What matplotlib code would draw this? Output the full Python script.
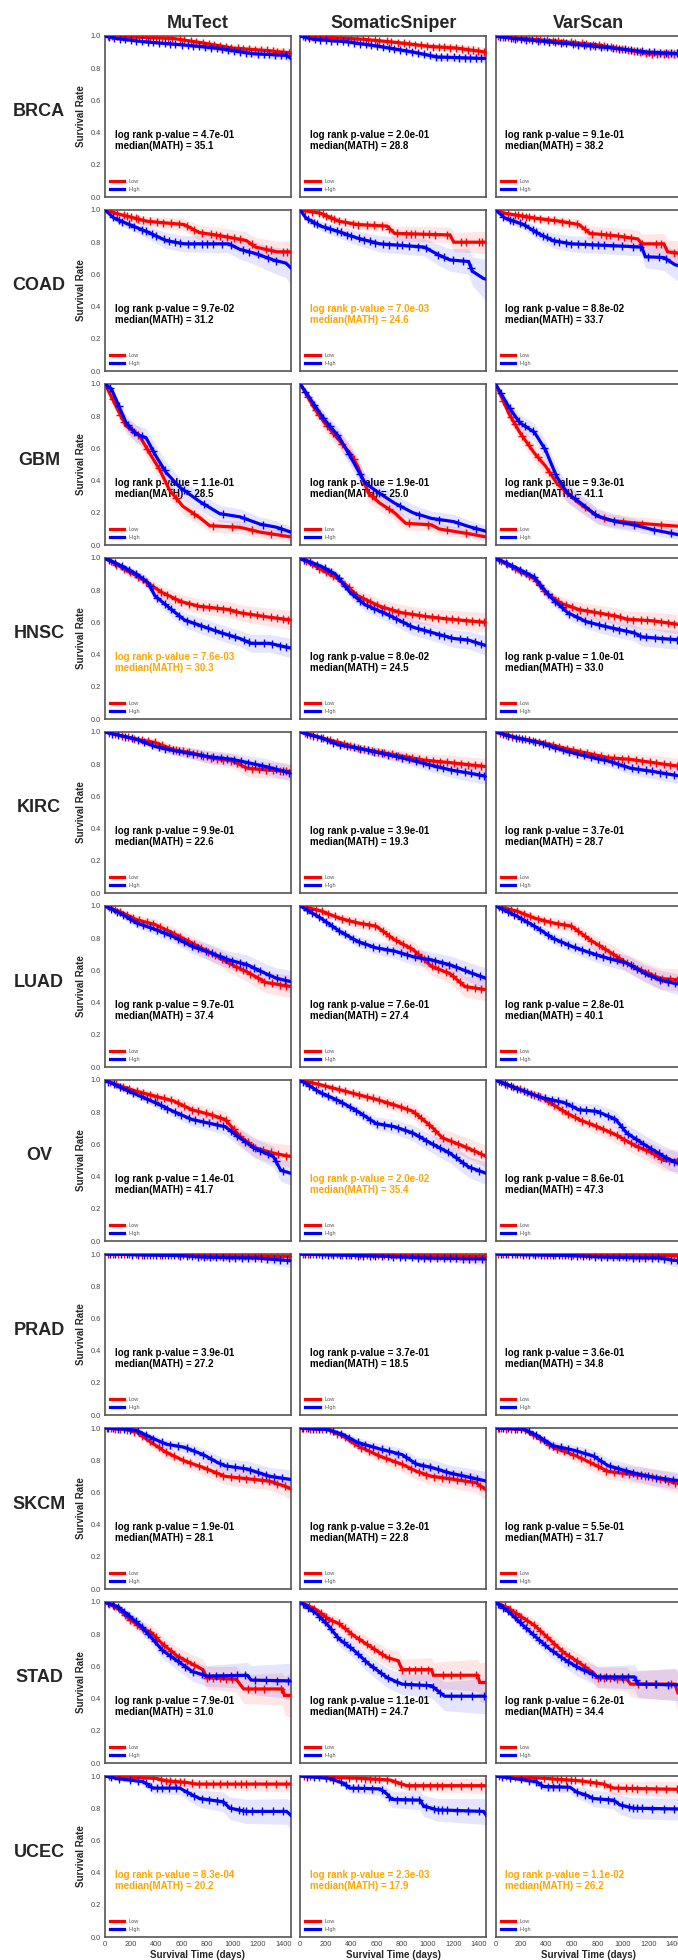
import matplotlib
matplotlib.use("Agg")
import matplotlib.pyplot as plt
import numpy as np

plt.rcParams["font.family"] = ["Liberation Sans", "DejaVu Sans"]

CANCERS = ["BRCA", "COAD", "GBM", "HNSC", "KIRC", "LUAD", "OV", "PRAD", "SKCM", "STAD", "UCEC"]
CALLERS = ["MuTect", "SomaticSniper", "VarScan"]

# log rank p-values and median MATH, one row per cancer (MuTect, SomaticSniper, VarScan)
P_VALUES = [
    [4.7e-01, 2.0e-01, 9.1e-01],
    [9.7e-02, 7.0e-03, 8.8e-02],
    [1.1e-01, 1.9e-01, 9.3e-01],
    [7.6e-03, 8.0e-02, 1.0e-01],
    [9.9e-01, 3.9e-01, 3.7e-01],
    [9.7e-01, 7.6e-01, 2.8e-01],
    [1.4e-01, 2.0e-02, 8.6e-01],
    [3.9e-01, 3.7e-01, 3.6e-01],
    [1.9e-01, 3.2e-01, 5.5e-01],
    [7.9e-01, 1.1e-01, 6.2e-01],
    [8.3e-04, 2.3e-03, 1.1e-02],
]
MEDIAN_MATH = [
    [35.1, 28.8, 38.2],
    [31.2, 24.6, 33.7],
    [28.5, 25.0, 41.1],
    [30.3, 24.5, 33.0],
    [22.6, 19.3, 28.7],
    [37.4, 27.4, 40.1],
    [41.7, 35.4, 47.3],
    [27.2, 18.5, 34.8],
    [28.1, 22.8, 31.7],
    [31.0, 24.7, 34.4],
    [20.2, 17.9, 26.2],
]

# survival curves: rows of (days, survival, confidence half-width)
BRCA = {
    "MuTect": {
        "Low": [(0, 1, 0), (535, 0.985, 0.01), (744, 0.96, 0.015), (1007, 0.925, 0.02), (1270, 0.91, 0.025), (1460, 0.895, 0.03)],
        "High": [(0, 1, 0), (89, 0.985, 0.005), (299, 0.965, 0.01), (613, 0.945, 0.015), (875, 0.925, 0.02), (1163, 0.89, 0.025), (1426, 0.88, 0.03), (1460, 0.86, 0.035)],
    },
    "SomaticSniper": {
        "Low": [(0, 1, 0), (494, 0.98, 0.01), (756, 0.96, 0.015), (1019, 0.935, 0.02), (1229, 0.925, 0.025), (1460, 0.90, 0.03)],
        "High": [(0, 1, 0), (100, 0.98, 0.005), (362, 0.965, 0.01), (625, 0.935, 0.015), (888, 0.90, 0.02), (1071, 0.87, 0.025), (1460, 0.86, 0.03)],
    },
    "VarScan": {
        "Low": [(0, 1, 0), (139, 0.99, 0.005), (533, 0.965, 0.01), (796, 0.945, 0.015), (1058, 0.91, 0.02), (1190, 0.89, 0.025), (1460, 0.89, 0.03)],
        "High": [(0, 1, 0), (139, 0.985, 0.005), (402, 0.965, 0.01), (664, 0.945, 0.015), (927, 0.925, 0.02), (1190, 0.90, 0.025), (1460, 0.89, 0.03)],
    },
}
COAD = {
    "MuTect": {
        "Low": [(0, 1, 0), (130, 0.97, 0.02), (330, 0.93, 0.03), (620, 0.91, 0.04), (740, 0.86, 0.045), (910, 0.84, 0.05), (1110, 0.81, 0.055), (1180, 0.77, 0.06), (1350, 0.74, 0.065), (1460, 0.74, 0.07)],
        "High": [(0, 1, 0), (70, 0.95, 0.02), (190, 0.91, 0.03), (330, 0.865, 0.04), (480, 0.81, 0.05), (620, 0.79, 0.05), (970, 0.79, 0.055), (1060, 0.755, 0.06), (1180, 0.73, 0.07), (1320, 0.69, 0.08), (1420, 0.67, 0.09), (1460, 0.64, 0.11)],
    },
    "SomaticSniper": {
        "Low": [(0, 1, 0), (160, 0.98, 0.015), (305, 0.93, 0.025), (450, 0.91, 0.03), (680, 0.90, 0.035), (740, 0.855, 0.045), (1175, 0.845, 0.05), (1205, 0.80, 0.06), (1460, 0.80, 0.07)],
        "High": [(0, 1, 0), (44, 0.95, 0.02), (160, 0.90, 0.03), (305, 0.865, 0.04), (450, 0.825, 0.045), (624, 0.79, 0.05), (972, 0.77, 0.055), (1088, 0.72, 0.065), (1175, 0.69, 0.07), (1321, 0.68, 0.08), (1350, 0.62, 0.09), (1437, 0.575, 0.12), (1460, 0.57, 0.14)],
    },
    "VarScan": {
        "Low": [(0, 1, 0), (73, 0.98, 0.01), (305, 0.95, 0.02), (508, 0.93, 0.03), (653, 0.91, 0.035), (740, 0.855, 0.045), (943, 0.84, 0.05), (1117, 0.82, 0.055), (1147, 0.79, 0.06), (1321, 0.79, 0.065), (1350, 0.74, 0.07), (1460, 0.73, 0.08)],
        "High": [(0, 1, 0), (73, 0.95, 0.02), (218, 0.91, 0.03), (334, 0.855, 0.04), (450, 0.81, 0.045), (595, 0.79, 0.05), (1147, 0.77, 0.055), (1175, 0.71, 0.07), (1321, 0.705, 0.08), (1408, 0.66, 0.09), (1460, 0.65, 0.1)],
    },
}
GBM = {
    "MuTect": {
        "Low": [(0, 1, 0), (100, 0.84, 0.04), (165, 0.74, 0.05), (270, 0.68, 0.055), (350, 0.57, 0.06), (428, 0.47, 0.06), (507, 0.34, 0.055), (612, 0.24, 0.05), (743, 0.17, 0.045), (822, 0.12, 0.04), (1058, 0.11, 0.04), (1216, 0.08, 0.035), (1460, 0.05, 0.03)],
        "High": [(0, 1, 0), (50, 0.97, 0.02), (165, 0.76, 0.05), (244, 0.69, 0.055), (323, 0.665, 0.06), (402, 0.55, 0.065), (480, 0.45, 0.065), (585, 0.36, 0.06), (743, 0.27, 0.055), (900, 0.195, 0.05), (1058, 0.175, 0.05), (1216, 0.13, 0.045), (1347, 0.11, 0.04), (1460, 0.08, 0.035)],
    },
    "SomaticSniper": {
        "Low": [(0, 1, 0), (102, 0.86, 0.04), (189, 0.76, 0.05), (305, 0.65, 0.055), (392, 0.57, 0.06), (450, 0.49, 0.06), (537, 0.32, 0.055), (624, 0.26, 0.05), (740, 0.20, 0.045), (827, 0.135, 0.04), (1030, 0.125, 0.04), (1088, 0.10, 0.035), (1321, 0.07, 0.03), (1460, 0.05, 0.03)],
        "High": [(0, 1, 0), (102, 0.88, 0.035), (189, 0.78, 0.045), (305, 0.67, 0.055), (421, 0.51, 0.06), (508, 0.385, 0.06), (624, 0.32, 0.055), (740, 0.26, 0.055), (885, 0.20, 0.05), (1030, 0.165, 0.045), (1205, 0.145, 0.045), (1321, 0.115, 0.04), (1460, 0.085, 0.035)],
    },
    "VarScan": {
        "Low": [(0, 1, 0), (102, 0.82, 0.04), (189, 0.70, 0.05), (305, 0.57, 0.055), (392, 0.49, 0.06), (479, 0.385, 0.06), (566, 0.32, 0.055), (653, 0.26, 0.05), (798, 0.18, 0.045), (885, 0.155, 0.04), (1117, 0.135, 0.04), (1460, 0.115, 0.035)],
        "High": [(0, 1, 0), (102, 0.86, 0.04), (189, 0.76, 0.05), (305, 0.70, 0.055), (392, 0.59, 0.06), (479, 0.425, 0.065), (566, 0.32, 0.06), (653, 0.27, 0.055), (798, 0.18, 0.05), (943, 0.145, 0.045), (1088, 0.125, 0.04), (1234, 0.095, 0.035), (1460, 0.06, 0.03)],
    },
}
HNSC = {
    "MuTect": {
        "Low": [(0, 1, 0), (131, 0.94, 0.02), (247, 0.89, 0.03), (363, 0.83, 0.035), (450, 0.785, 0.04), (595, 0.73, 0.045), (740, 0.70, 0.045), (972, 0.68, 0.05), (1059, 0.66, 0.05), (1263, 0.635, 0.055), (1460, 0.615, 0.06)],
        "High": [(0, 1, 0), (131, 0.95, 0.02), (247, 0.90, 0.03), (334, 0.85, 0.035), (392, 0.765, 0.04), (537, 0.67, 0.045), (624, 0.615, 0.045), (769, 0.575, 0.05), (914, 0.535, 0.05), (1059, 0.50, 0.05), (1147, 0.47, 0.055), (1292, 0.47, 0.055), (1460, 0.44, 0.06)],
    },
    "SomaticSniper": {
        "Low": [(0, 1, 0), (160, 0.93, 0.02), (276, 0.88, 0.03), (363, 0.83, 0.035), (450, 0.765, 0.04), (624, 0.70, 0.045), (798, 0.66, 0.05), (1001, 0.635, 0.05), (1175, 0.62, 0.055), (1460, 0.60, 0.06)],
        "High": [(0, 1, 0), (160, 0.95, 0.02), (276, 0.90, 0.03), (392, 0.785, 0.035), (508, 0.71, 0.04), (682, 0.65, 0.045), (885, 0.57, 0.05), (1088, 0.525, 0.05), (1205, 0.50, 0.055), (1321, 0.49, 0.055), (1460, 0.455, 0.06)],
    },
    "VarScan": {
        "Low": [(0, 1, 0), (160, 0.93, 0.02), (305, 0.87, 0.03), (392, 0.785, 0.035), (508, 0.72, 0.04), (653, 0.68, 0.045), (943, 0.64, 0.05), (1030, 0.62, 0.05), (1234, 0.61, 0.055), (1460, 0.585, 0.06)],
        "High": [(0, 1, 0), (160, 0.94, 0.02), (305, 0.88, 0.03), (421, 0.765, 0.035), (566, 0.66, 0.04), (711, 0.605, 0.045), (885, 0.57, 0.05), (1088, 0.535, 0.05), (1147, 0.51, 0.055), (1460, 0.49, 0.06)],
    },
}
KIRC = {
    "MuTect": {
        "Low": [(0, 1, 0), (247, 0.955, 0.02), (392, 0.935, 0.025), (537, 0.89, 0.03), (682, 0.87, 0.035), (827, 0.84, 0.04), (1001, 0.82, 0.045), (1117, 0.775, 0.05), (1263, 0.765, 0.05), (1460, 0.755, 0.05)],
        "High": [(0, 1, 0), (247, 0.955, 0.015), (392, 0.91, 0.025), (537, 0.885, 0.03), (682, 0.865, 0.035), (827, 0.845, 0.04), (1001, 0.83, 0.04), (1117, 0.81, 0.045), (1263, 0.785, 0.05), (1460, 0.745, 0.05)],
    },
    "SomaticSniper": {
        "Low": [(0, 1, 0), (160, 0.965, 0.015), (305, 0.935, 0.02), (450, 0.90, 0.025), (624, 0.875, 0.03), (798, 0.85, 0.035), (972, 0.825, 0.04), (1175, 0.81, 0.045), (1460, 0.785, 0.05)],
        "High": [(0, 1, 0), (160, 0.965, 0.015), (305, 0.92, 0.02), (450, 0.90, 0.025), (624, 0.87, 0.03), (798, 0.84, 0.035), (972, 0.805, 0.04), (1175, 0.765, 0.045), (1321, 0.745, 0.05), (1460, 0.725, 0.05)],
    },
    "VarScan": {
        "Low": [(0, 1, 0), (160, 0.965, 0.015), (363, 0.935, 0.02), (537, 0.90, 0.025), (711, 0.87, 0.03), (885, 0.84, 0.035), (1059, 0.83, 0.04), (1234, 0.81, 0.045), (1460, 0.785, 0.05)],
        "High": [(0, 1, 0), (160, 0.965, 0.015), (363, 0.93, 0.02), (537, 0.885, 0.025), (711, 0.85, 0.03), (885, 0.82, 0.035), (1059, 0.775, 0.04), (1234, 0.755, 0.045), (1460, 0.725, 0.05)],
    },
}
LUAD = {
    "MuTect": {
        "Low": [(0, 1, 0), (131, 0.96, 0.02), (247, 0.915, 0.03), (392, 0.885, 0.035), (537, 0.83, 0.04), (682, 0.77, 0.045), (827, 0.71, 0.05), (972, 0.645, 0.055), (1117, 0.59, 0.06), (1263, 0.525, 0.065), (1460, 0.50, 0.07)],
        "High": [(0, 1, 0), (131, 0.95, 0.02), (247, 0.895, 0.03), (392, 0.855, 0.035), (537, 0.81, 0.04), (682, 0.75, 0.045), (827, 0.71, 0.05), (972, 0.665, 0.055), (1117, 0.635, 0.06), (1263, 0.58, 0.06), (1350, 0.55, 0.065), (1460, 0.53, 0.07)],
    },
    "SomaticSniper": {
        "Low": [(0, 1, 0), (160, 0.97, 0.02), (305, 0.925, 0.03), (450, 0.895, 0.035), (595, 0.875, 0.04), (740, 0.79, 0.045), (885, 0.73, 0.05), (1030, 0.625, 0.055), (1175, 0.58, 0.06), (1292, 0.50, 0.065), (1460, 0.48, 0.07)],
        "High": [(0, 1, 0), (160, 0.925, 0.02), (305, 0.845, 0.03), (450, 0.78, 0.035), (595, 0.74, 0.04), (740, 0.72, 0.045), (885, 0.685, 0.05), (1030, 0.665, 0.05), (1175, 0.635, 0.055), (1321, 0.59, 0.06), (1460, 0.55, 0.065)],
    },
    "VarScan": {
        "Low": [(0, 1, 0), (160, 0.97, 0.02), (305, 0.925, 0.03), (450, 0.895, 0.035), (595, 0.875, 0.04), (740, 0.79, 0.045), (885, 0.72, 0.05), (1030, 0.645, 0.055), (1175, 0.59, 0.06), (1292, 0.55, 0.065), (1460, 0.54, 0.07)],
        "High": [(0, 1, 0), (160, 0.94, 0.02), (305, 0.875, 0.03), (450, 0.80, 0.035), (595, 0.75, 0.04), (740, 0.71, 0.045), (885, 0.675, 0.05), (1030, 0.645, 0.05), (1175, 0.58, 0.055), (1292, 0.54, 0.06), (1460, 0.51, 0.065)],
    },
}
OV = {
    "MuTect": {
        "Low": [(0, 1, 0), (131, 0.96, 0.02), (247, 0.93, 0.025), (392, 0.90, 0.03), (537, 0.87, 0.035), (682, 0.815, 0.04), (827, 0.785, 0.045), (943, 0.755, 0.05), (1059, 0.65, 0.055), (1176, 0.58, 0.06), (1321, 0.545, 0.065), (1460, 0.525, 0.07)],
        "High": [(0, 1, 0), (131, 0.95, 0.02), (247, 0.91, 0.025), (392, 0.86, 0.03), (537, 0.805, 0.035), (682, 0.755, 0.04), (827, 0.73, 0.045), (943, 0.71, 0.05), (1059, 0.64, 0.055), (1176, 0.575, 0.06), (1321, 0.525, 0.065), (1379, 0.44, 0.07), (1460, 0.42, 0.075)],
    },
    "SomaticSniper": {
        "Low": [(0, 1, 0), (160, 0.97, 0.02), (305, 0.94, 0.025), (450, 0.91, 0.03), (595, 0.88, 0.035), (740, 0.845, 0.04), (885, 0.805, 0.045), (1030, 0.71, 0.05), (1117, 0.64, 0.055), (1263, 0.595, 0.06), (1379, 0.555, 0.065), (1460, 0.525, 0.07)],
        "High": [(0, 1, 0), (160, 0.92, 0.025), (305, 0.87, 0.03), (450, 0.805, 0.035), (595, 0.73, 0.04), (740, 0.71, 0.045), (885, 0.67, 0.05), (1030, 0.605, 0.055), (1175, 0.545, 0.06), (1321, 0.46, 0.065), (1460, 0.42, 0.07)],
    },
    "VarScan": {
        "Low": [(0, 1, 0), (160, 0.95, 0.02), (363, 0.89, 0.03), (537, 0.805, 0.035), (653, 0.755, 0.04), (798, 0.71, 0.045), (943, 0.66, 0.05), (1088, 0.595, 0.055), (1234, 0.545, 0.06), (1321, 0.50, 0.065), (1460, 0.50, 0.07)],
        "High": [(0, 1, 0), (160, 0.95, 0.02), (363, 0.89, 0.03), (537, 0.86, 0.035), (653, 0.815, 0.04), (798, 0.805, 0.045), (943, 0.755, 0.05), (1030, 0.67, 0.055), (1175, 0.595, 0.06), (1321, 0.525, 0.065), (1460, 0.47, 0.07)],
    },
}
PRAD = {
    "MuTect": {
        "Low": [(0, 1, 0), (400, 0.995, 0.005), (800, 0.99, 0.01), (1460, 0.985, 0.02)],
        "High": [(0, 1, 0), (600, 0.99, 0.01), (800, 0.98, 0.02), (1200, 0.975, 0.025), (1350, 0.965, 0.035), (1460, 0.958, 0.045)],
    },
    "SomaticSniper": {
        "Low": [(0, 1, 0), (500, 0.995, 0.005), (1000, 0.99, 0.02), (1460, 0.985, 0.06)],
        "High": [(0, 1, 0), (700, 0.985, 0.01), (1000, 0.975, 0.02), (1460, 0.97, 0.025)],
    },
    "VarScan": {
        "Low": [(0, 1, 0), (600, 0.995, 0.005), (1000, 0.99, 0.01), (1460, 0.99, 0.015)],
        "High": [(0, 1, 0), (600, 0.99, 0.01), (900, 0.98, 0.02), (1300, 0.975, 0.025), (1400, 0.96, 0.04), (1460, 0.96, 0.045)],
    },
}
SKCM = {
    "MuTect": {
        "Low": [(0, 1, 0), (160, 0.99, 0.01), (247, 0.975, 0.015), (363, 0.91, 0.03), (479, 0.85, 0.035), (624, 0.795, 0.04), (769, 0.755, 0.045), (943, 0.70, 0.05), (1117, 0.685, 0.055), (1292, 0.67, 0.055), (1408, 0.64, 0.06), (1460, 0.62, 0.065)],
        "High": [(0, 1, 0), (160, 0.995, 0.005), (247, 0.985, 0.01), (363, 0.94, 0.025), (479, 0.90, 0.03), (624, 0.88, 0.035), (769, 0.835, 0.04), (885, 0.785, 0.045), (943, 0.765, 0.045), (1117, 0.745, 0.05), (1292, 0.70, 0.055), (1460, 0.68, 0.06)],
    },
    "SomaticSniper": {
        "Low": [(0, 1, 0), (218, 0.99, 0.01), (334, 0.95, 0.02), (450, 0.89, 0.03), (624, 0.825, 0.04), (798, 0.775, 0.045), (914, 0.73, 0.05), (1030, 0.70, 0.05), (1175, 0.685, 0.055), (1379, 0.66, 0.06), (1460, 0.615, 0.065)],
        "High": [(0, 1, 0), (218, 0.99, 0.01), (334, 0.96, 0.02), (450, 0.91, 0.03), (624, 0.87, 0.035), (798, 0.835, 0.04), (914, 0.775, 0.045), (1030, 0.755, 0.05), (1175, 0.72, 0.05), (1321, 0.695, 0.055), (1460, 0.67, 0.06)],
    },
    "VarScan": {
        "Low": [(0, 1, 0), (218, 0.99, 0.01), (334, 0.94, 0.02), (450, 0.88, 0.03), (624, 0.83, 0.04), (769, 0.775, 0.045), (885, 0.73, 0.05), (1088, 0.71, 0.05), (1234, 0.695, 0.055), (1460, 0.65, 0.06)],
        "High": [(0, 1, 0), (218, 0.995, 0.01), (334, 0.95, 0.02), (450, 0.89, 0.03), (624, 0.86, 0.035), (769, 0.825, 0.04), (885, 0.765, 0.045), (1088, 0.72, 0.05), (1234, 0.695, 0.05), (1460, 0.67, 0.055)],
    },
}
STAD = {
    "MuTect": {
        "Low": [(0, 1, 0), (102, 0.96, 0.02), (189, 0.895, 0.03), (276, 0.845, 0.04), (363, 0.81, 0.045), (450, 0.74, 0.05), (566, 0.665, 0.055), (682, 0.615, 0.06), (769, 0.58, 0.065), (798, 0.53, 0.07), (1030, 0.52, 0.08), (1059, 0.49, 0.085), (1088, 0.46, 0.09), (1393, 0.46, 0.1), (1408, 0.42, 0.12), (1460, 0.42, 0.14)],
        "High": [(0, 1, 0), (102, 0.97, 0.02), (189, 0.915, 0.03), (276, 0.855, 0.04), (363, 0.78, 0.045), (450, 0.70, 0.05), (566, 0.635, 0.055), (682, 0.57, 0.06), (798, 0.54, 0.065), (1117, 0.545, 0.08), (1147, 0.515, 0.09), (1460, 0.51, 0.11)],
    },
    "SomaticSniper": {
        "Low": [(0, 1, 0), (131, 0.95, 0.02), (218, 0.895, 0.03), (305, 0.865, 0.04), (421, 0.79, 0.045), (537, 0.73, 0.05), (682, 0.655, 0.055), (769, 0.635, 0.06), (798, 0.58, 0.065), (1030, 0.58, 0.075), (1045, 0.545, 0.08), (1393, 0.545, 0.1), (1408, 0.50, 0.12), (1460, 0.50, 0.13)],
        "High": [(0, 1, 0), (131, 0.925, 0.025), (218, 0.855, 0.035), (305, 0.77, 0.045), (421, 0.70, 0.05), (537, 0.615, 0.055), (682, 0.53, 0.06), (798, 0.49, 0.065), (1030, 0.48, 0.075), (1132, 0.415, 0.09), (1460, 0.415, 0.11)],
    },
    "VarScan": {
        "Low": [(0, 1, 0), (102, 0.96, 0.02), (189, 0.915, 0.03), (305, 0.855, 0.04), (421, 0.77, 0.045), (537, 0.685, 0.05), (653, 0.625, 0.055), (769, 0.56, 0.06), (798, 0.53, 0.065), (1030, 0.52, 0.075), (1059, 0.49, 0.08), (1408, 0.49, 0.1), (1431, 0.435, 0.12), (1460, 0.435, 0.12)],
        "High": [(0, 1, 0), (102, 0.94, 0.02), (189, 0.875, 0.03), (305, 0.79, 0.04), (421, 0.71, 0.045), (537, 0.645, 0.05), (653, 0.59, 0.055), (769, 0.55, 0.06), (798, 0.535, 0.065), (1088, 0.535, 0.075), (1117, 0.49, 0.085), (1460, 0.485, 0.1)],
    },
}
UCEC = {
    "MuTect": {
        "Low": [(0, 1, 0), (404, 0.985, 0.01), (482, 0.97, 0.02), (640, 0.96, 0.025), (718, 0.95, 0.03), (1460, 0.95, 0.05)],
        "High": [(0, 1, 0), (89, 0.985, 0.01), (299, 0.965, 0.02), (338, 0.945, 0.03), (377, 0.925, 0.035), (587, 0.925, 0.04), (666, 0.89, 0.05), (744, 0.86, 0.055), (928, 0.84, 0.06), (980, 0.80, 0.07), (1111, 0.78, 0.075), (1426, 0.78, 0.08), (1460, 0.755, 0.09)],
    },
    "SomaticSniper": {
        "Low": [(0, 1, 0), (494, 0.985, 0.01), (704, 0.975, 0.02), (835, 0.94, 0.03), (1460, 0.94, 0.05)],
        "High": [(0, 1, 0), (232, 0.985, 0.01), (337, 0.955, 0.02), (389, 0.925, 0.03), (625, 0.92, 0.04), (678, 0.89, 0.045), (717, 0.855, 0.05), (940, 0.85, 0.06), (966, 0.815, 0.065), (1071, 0.79, 0.07), (1438, 0.78, 0.08), (1460, 0.755, 0.09)],
    },
    "VarScan": {
        "Low": [(0, 1, 0), (401, 0.985, 0.01), (663, 0.97, 0.02), (847, 0.95, 0.03), (925, 0.925, 0.04), (1460, 0.917, 0.05)],
        "High": [(0, 1, 0), (139, 0.985, 0.01), (322, 0.965, 0.02), (375, 0.935, 0.03), (585, 0.93, 0.035), (637, 0.90, 0.04), (716, 0.88, 0.045), (768, 0.86, 0.05), (925, 0.85, 0.055), (978, 0.82, 0.06), (1083, 0.80, 0.065), (1460, 0.795, 0.07)],
    },
}

# censoring times (days), Low group then High group
BRCA_CENSOR = (
    [22, 58, 97, 140, 171, 226, 263, 318, 352, 401, 447, 493, 529, 588, 621, 677, 712, 768, 815, 852, 903, 946, 991, 1042, 1087, 1131, 1178, 1226, 1269, 1318, 1352, 1397, 1441],
    [35, 71, 118, 156, 203, 241, 289, 334, 378, 423, 468, 512, 553, 604, 648, 693, 739, 782, 831, 877, 921, 968, 1015, 1063, 1106, 1149, 1203, 1245, 1291, 1335, 1378, 1420],
)
COAD_CENSOR = (
    [40, 95, 150, 175, 205, 240, 262, 300, 350, 410, 455, 520, 580, 640, 700, 760, 830, 870, 900, 960, 1010, 1060, 1150, 1260, 1300, 1400, 1430],
    [60, 110, 135, 190, 230, 290, 320, 370, 400, 460, 500, 550, 590, 650, 700, 760, 800, 850, 920, 990, 1080, 1130, 1200, 1280, 1340],
)
GBM_CENSOR = (
    [60, 120, 150, 210, 260, 330, 420, 560, 700, 850, 1000, 1150, 1300],
    [40, 110, 180, 230, 290, 380, 470, 620, 780, 930, 1090, 1240, 1380],
)
HNSC_CENSOR = (
    [45, 90, 150, 200, 260, 320, 380, 440, 490, 550, 600, 660, 720, 770, 820, 880, 930, 980, 1030, 1080, 1140, 1190, 1240, 1300, 1350, 1400, 1440],
    [30, 80, 130, 190, 240, 300, 350, 410, 470, 520, 580, 640, 700, 750, 810, 860, 920, 970, 1020, 1090, 1130, 1180, 1250, 1310, 1370, 1420],
)
KIRC_CENSOR = (
    [35, 80, 130, 180, 230, 290, 340, 390, 450, 500, 560, 610, 660, 720, 770, 830, 880, 930, 990, 1040, 1100, 1150, 1210, 1260, 1320, 1370, 1420],
    [55, 100, 160, 210, 260, 310, 370, 420, 470, 530, 580, 640, 690, 750, 800, 850, 910, 960, 1010, 1070, 1120, 1180, 1230, 1290, 1340, 1400, 1445],
)
LUAD_CENSOR = (
    [30, 75, 120, 170, 220, 270, 330, 380, 430, 490, 540, 590, 650, 700, 750, 810, 860, 920, 970, 1030, 1080, 1140, 1200, 1250, 1310, 1370, 1420],
    [50, 95, 145, 200, 250, 300, 350, 410, 460, 510, 570, 620, 680, 730, 790, 840, 900, 950, 1000, 1060, 1110, 1170, 1220, 1290, 1350, 1410],
)
OV_CENSOR = (
    [40, 90, 140, 190, 250, 300, 350, 410, 460, 520, 570, 620, 680, 730, 790, 840, 900, 950, 1010, 1060, 1120, 1180, 1240, 1300, 1360, 1420],
    [25, 70, 120, 170, 220, 280, 330, 390, 440, 490, 550, 600, 660, 710, 770, 820, 880, 930, 990, 1040, 1100, 1160, 1220, 1280, 1340, 1400],
)
PRAD_CENSOR = (
    [20, 60, 100, 150, 190, 240, 290, 330, 380, 430, 470, 520, 570, 610, 660, 710, 750, 800, 850, 900, 950, 1000, 1050, 1100, 1150, 1200, 1250, 1300, 1350, 1400, 1445],
    [40, 80, 125, 170, 215, 260, 310, 355, 400, 450, 495, 545, 590, 640, 685, 730, 780, 825, 875, 925, 970, 1020, 1075, 1125, 1175, 1225, 1275, 1325, 1375, 1425],
)
SKCM_CENSOR = (
    [15, 45, 80, 120, 170, 230, 290, 350, 420, 480, 540, 610, 670, 740, 800, 870, 930, 990, 1050, 1110, 1170, 1230, 1290, 1350, 1410],
    [25, 60, 100, 150, 200, 260, 320, 380, 450, 510, 570, 640, 700, 770, 830, 900, 960, 1020, 1080, 1140, 1200, 1260, 1330, 1390],
)
STAD_CENSOR = (
    [30, 70, 110, 160, 200, 250, 300, 350, 400, 460, 520, 580, 640, 700, 800, 850, 900, 950, 1000, 1120, 1180, 1250, 1380],
    [20, 60, 100, 150, 190, 240, 290, 340, 390, 450, 510, 570, 630, 690, 760, 820, 870, 930, 990, 1040, 1100, 1180, 1260, 1350, 1440],
)
UCEC_CENSOR = (
    [30, 80, 150, 230, 300, 380, 440, 480, 510, 550, 590, 620, 680, 740, 790, 850, 900, 960, 1020, 1070, 1110, 1180, 1260, 1340, 1420],
    [50, 110, 200, 260, 320, 360, 410, 450, 500, 560, 640, 700, 760, 820, 880, 930, 990, 1050, 1080, 1110, 1150, 1230, 1320, 1400],
)

CURVES = {"BRCA": BRCA, "COAD": COAD, "GBM": GBM, "HNSC": HNSC, "KIRC": KIRC, "LUAD": LUAD,
          "OV": OV, "PRAD": PRAD, "SKCM": SKCM, "STAD": STAD, "UCEC": UCEC}
CENSORS = {"BRCA": BRCA_CENSOR, "COAD": COAD_CENSOR, "GBM": GBM_CENSOR, "HNSC": HNSC_CENSOR,
           "KIRC": KIRC_CENSOR, "LUAD": LUAD_CENSOR, "OV": OV_CENSOR, "PRAD": PRAD_CENSOR,
           "SKCM": SKCM_CENSOR, "STAD": STAD_CENSOR, "UCEC": UCEC_CENSOR}

GROUP_COLORS = {"Low": "#ff0000", "High": "#0000ff"}
SPINE_COLOR = "#555555"
TEXT_GRAY = "#262626"

W, H = 678, 1960


def draw_group(ax, rows, censor_times, color, label):
    arr = np.array(rows, dtype=float)
    t, s, w = arr[:, 0], arr[:, 1], arr[:, 2]
    ax.fill_between(t, np.clip(s - w, 0, 1), np.clip(s + w, 0, 1),
                    color=color, alpha=0.1, lw=0, zorder=2)
    ax.plot(t, s, color=color, lw=2.3, label=label, zorder=3, solid_joinstyle="miter")
    ct = np.array(censor_times, dtype=float)
    ax.plot(ct, np.interp(ct, t, s), ls="none", marker="+", ms=5.5, mew=1.0,
            color=color, zorder=3)


fig = plt.figure(figsize=(W / 100, H / 100), dpi=100)

for i, cancer in enumerate(CANCERS):
    for j, caller in enumerate(CALLERS):
        left = 105 + 195.3 * j
        top = 36 + 174 * i
        ax = fig.add_axes([left / W, 1 - (top + 161) / H, 186 / W, 161 / H])

        groups = CURVES[cancer][caller]
        low_c, high_c = CENSORS[cancer]
        draw_group(ax, groups["Low"], low_c, GROUP_COLORS["Low"], "Low")
        draw_group(ax, groups["High"], high_c, GROUP_COLORS["High"], "High")

        p = P_VALUES[i][j]
        txt_color = "orange" if p < 0.05 else "black"
        ax.text(0.052, 0.352, f"log rank p-value = {p:.1e}\nmedian(MATH) = {MEDIAN_MATH[i][j]:.1f}",
                transform=ax.transAxes, fontsize=7, fontweight="bold", color=txt_color,
                va="center", ha="left", linespacing=1.15, zorder=1)

        leg = ax.legend(loc="lower left", fontsize=4, frameon=False, handlelength=2.6,
                        handletextpad=0.8, labelspacing=0.6, borderaxespad=0.5, borderpad=0.4)
        for t in leg.get_texts():
            t.set_color("#555555")

        ax.set_xlim(0, 1460)
        ax.set_ylim(0, 1.0)
        ax.set_xticks(range(0, 1401, 200))
        ax.set_yticks([0.0, 0.2, 0.4, 0.6, 0.8, 1.0])
        ax.tick_params(length=0, pad=3, labelsize=5.3, labelcolor="#444444")
        for sp in ax.spines.values():
            sp.set_color(SPINE_COLOR)
            sp.set_linewidth(1.2)

        if j == 0:
            ax.set_yticklabels(["0.0", "0.2", "0.4", "0.6", "0.8", "1.0"])
            ax.set_ylabel("Survival Rate", fontsize=7, fontweight="bold", color=TEXT_GRAY, labelpad=3)
            ax.text(-0.355, 0.5, cancer, transform=ax.transAxes, ha="center", va="baseline",
                    fontsize=13, fontweight="bold", color=TEXT_GRAY)
        else:
            ax.set_yticklabels([])

        if i == len(CANCERS) - 1:
            ax.set_xlabel("Survival Time (days)", fontsize=7, fontweight="bold", color=TEXT_GRAY, labelpad=1)
        else:
            ax.set_xticklabels([])

        if i == 0:
            ax.set_title(caller, fontsize=13, fontweight="bold", color=TEXT_GRAY, pad=6)

fig.savefig("out.png", dpi=100)
plt.close(fig)
